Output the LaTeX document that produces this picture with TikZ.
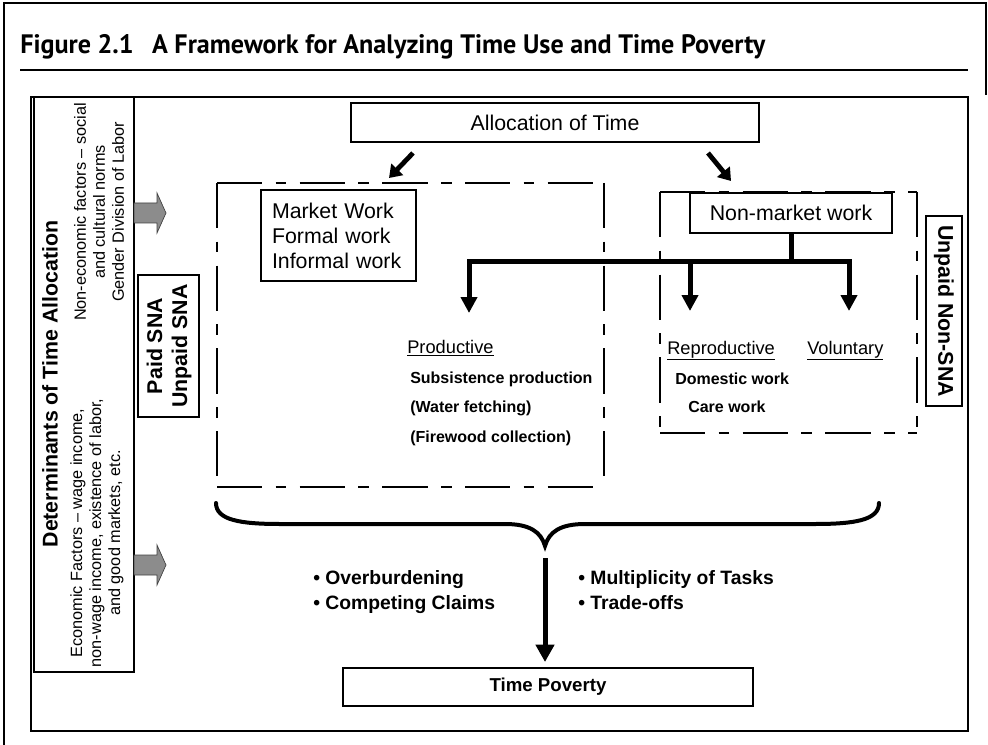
\documentclass[tikz,border=0pt]{standalone}
\usepackage{fontspec}
\setmainfont{Liberation Sans}
\newfontfamily\mytitlefont{PT Sans}
\usetikzlibrary{arrows.meta}
\newlength\myTitleW
\newcommand\myTitleText{\mytitlefont\bfseries\fontsize{20}{24}\selectfont Figure 2.1\hspace{0.45em} A Framework for Analyzing Time Use and Time Poverty}
\begin{document}
\begin{tikzpicture}[x=0.75pt,y=-0.75pt,
  box/.style={draw, line width=0.8pt, inner sep=0pt},
  dashbox/.style={line width=1.5pt, dash pattern=on 34pt off 10pt on 8pt off 10pt},
  tree/.style={line width=3.75pt},
  treearrow/.style={line width=3.75pt, -{Triangle[length=12pt,width=12pt]}},
  diagarrow/.style={line width=3.6pt, -{Triangle[length=9pt,width=12pt]}},
  grayarrow/.style={fill=black!45, draw=black!75, line width=0.5pt},
  brace/.style={line width=3pt, line cap=round},
  big/.style={font=\fontsize{16}{19}\selectfont},
  bigb/.style={font=\bfseries\fontsize{16}{18.75}\selectfont},
  mid/.style={font=\fontsize{13.7}{16}\selectfont},
  sub/.style={font=\bfseries\fontsize{12}{14}\selectfont},
  bullet/.style={font=\bfseries\fontsize{14.5}{17}\selectfont, anchor=base west}
]
\useasboundingbox (0,0) rectangle (988,745);
% outer page border
\draw[line width=2pt] (4,745) -- (4,3) -- (986,3) -- (986,95);
% title
\node[anchor=base west, inner sep=0pt] (title) at (20,54)
  {\settowidth\myTitleW{\myTitleText}\pgfmathsetmacro\mytsc{558.75pt/\myTitleW}\scalebox{\mytsc}[1]{\myTitleText}};
\coordinate (rl) at (20,70);
\coordinate (rr) at (968,70);
\draw[line width=0.8pt] (rl) -- (rr);
% frame
\draw[line width=0.9pt] (31,97) rectangle (968,731);

% left determinants box
\node[box, minimum width=75pt, minimum height=431.25pt] (det) at (84,384.5) {};
\node[rotate=90, inner sep=0pt, font=\bfseries\fontsize{16}{19}\selectfont] (dettxt) at (50,384) {Determinants of Time Allocation};
\node[rotate=90, inner sep=0pt, align=center, font=\fontsize{12.2}{14.25}\selectfont] (nonecon) at (99,212)
  {Non-economic factors -- social\\and cultural norms\\Gender Division of Labor};
\node[rotate=90, inner sep=0pt, align=center, font=\fontsize{12.2}{14.25}\selectfont] (econ) at (97,533)
  {Economic Factors -- wage income,\\non-wage income,  existence of labor,\\and good markets, etc.};

% gray block arrows
\filldraw[grayarrow] (134,203) -- (157,203) -- (157,193) -- (166,213) -- (157,233) -- (157,223) -- (134,223) -- cycle;
\filldraw[grayarrow] (134,555) -- (157,555) -- (157,545) -- (166,565) -- (157,585) -- (157,575) -- (134,575) -- cycle;

% Paid SNA box
\node[box, minimum width=45.75pt, minimum height=106.5pt] (paid) at (168.5,346) {};
\node[rotate=90, inner sep=0pt, align=center, bigb] (paidtxt) at (169,346) {Paid SNA\\Unpaid SNA};

% Allocation of time
\node[box, big, minimum width=306pt, minimum height=29.25pt] (alloc) at (555,122.5) {Allocation of Time};
\coordinate (la1) at (413,153);
\coordinate (la2) at (389,178);
\coordinate (ra1) at (708,153);
\coordinate (ra2) at (731,181);
\draw[diagarrow] (la1) -- (la2);
\draw[diagarrow] (ra1) -- (ra2);

% left dashed box
\coordinate (lTL) at (217,183);
\coordinate (lTR) at (604,183);
\coordinate (lBL) at (217,487);
\coordinate (lBR) at (604,487);
\draw[dashbox] (lTL) -- (lTR);
\draw[dashbox] (lTL) -- (lBL);
\draw[dashbox] (lBL) -- (lBR);
\draw[dashbox] (lTR) -- (lBR);

% right dashed box
\coordinate (rTL) at (660,192);
\coordinate (rTR) at (917,192);
\coordinate (rBL) at (660,433);
\coordinate (rBR) at (917,433);
\draw[dashbox] (rTL) -- (rTR);
\draw[dashbox] (rTL) -- (rBL);
\draw[dashbox] (rBL) -- (rBR);
\draw[dashbox] (rTR) -- (rBR);

% market work box
\node[box, fill=white, big, align=left, text width=99.75pt, inner xsep=8.25pt, minimum height=68.25pt, font=\fontsize{16}{18.75}\selectfont] (market) at (338.5,235.5)
  {Market Work\\Formal work\\Informal work};

% non-market box
\node[box, fill=white, big, minimum width=151.5pt, minimum height=30pt] (nm) at (791,213) {Non-market work};

% unpaid non-SNA
\node[box, minimum width=27pt, minimum height=142.5pt] (unpaid) at (944,311) {};
\node[rotate=-90, inner sep=0pt, bigb] (unpaidtxt) at (944,311) {Unpaid Non-SNA};

% tree
\coordinate (j) at (791,262);
\coordinate (pa) at (469,313);
\coordinate (ra) at (690,311);
\coordinate (va) at (849,311);
\draw[tree] (nm.south) -- (j);
\draw[treearrow] (j) -| (pa);
\draw[treearrow] (j) -| (ra);
\draw[treearrow] (j) -| (va);

% productive
\node[mid, anchor=base west, inner sep=0pt] (prod) at (407,353) {\underline{Productive}};
\node[sub, anchor=base west, inner sep=0pt] (subs) at (410,383.5) {Subsistence production};
\node[sub, anchor=base west, inner sep=0pt] (water) at (410,412.5) {(Water fetching)};
\node[sub, anchor=base west, inner sep=0pt] (fire) at (410,442.5) {(Firewood collection)};

% reproductive / voluntary
\node[mid, anchor=base west, inner sep=0pt] (repro) at (667,354) {\underline{Reproductive}};
\node[mid, anchor=base west, inner sep=0pt] (vol) at (807,354) {\underline{Voluntary}};
\node[sub, anchor=base west, inner sep=0pt] (dom) at (675,384.5) {Domestic work};
\node[sub, anchor=base west, inner sep=0pt] (care) at (688,412.5) {Care work};

% brace
\coordinate (bl) at (216,503);
\coordinate (bt) at (545,546);
\coordinate (br) at (879,503);
\draw[brace] (bl) .. controls (216,520) and (240,524) .. (280,524) -- (505,524)
  .. controls (530,524) and (541,532) .. (bt)
  .. controls (549,532) and (560,524) .. (585,524) -- (815,524)
  .. controls (855,524) and (879,520) .. (br);

% bottom arrow
\coordinate (da1) at (545,558);
\node[box, minimum width=307.5pt, minimum height=28.5pt, font=\bfseries\fontsize{14}{16}\selectfont] (tp) at (548,687) {Time Poverty};
\coordinate (da2) at (545,662);
\draw[line width=3.75pt, -{Triangle[length=13pt,width=13.5pt]}] (da1) -- (da2);

% bullets
\node[bullet, inner sep=0pt] (b1) at (313,584) {• Overburdening};
\node[bullet, inner sep=0pt] (b2) at (313,609) {• Competing Claims};
\node[bullet, inner sep=0pt] (b3) at (578,584) {• Multiplicity of Tasks};
\node[bullet, inner sep=0pt] (b4) at (578,609) {• Trade-offs};
\end{tikzpicture}
\end{document}
